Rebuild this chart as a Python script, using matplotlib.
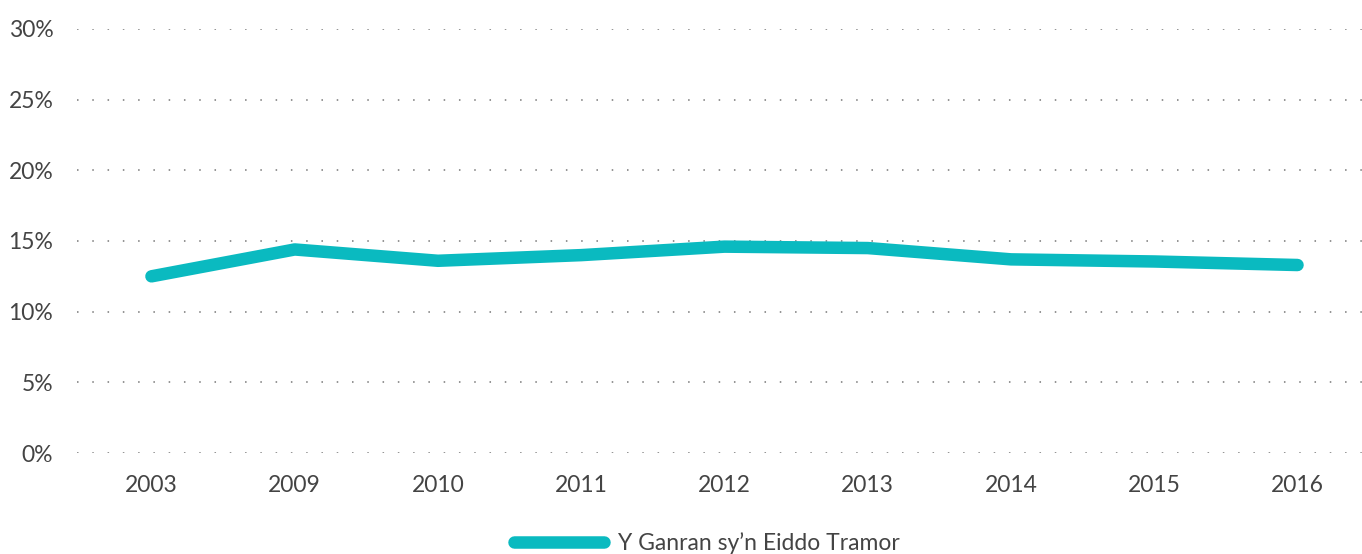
import matplotlib
matplotlib.use("Agg")
import matplotlib.pyplot as plt
from matplotlib.ticker import FuncFormatter

years = ["2003", "2009", "2010", "2011", "2012", "2013", "2014", "2015", "2016"]
values = [12.5, 14.4, 13.6, 14.0, 14.6, 14.5, 13.7, 13.55, 13.3]
yticks = [0, 5, 10, 15, 20, 25, 30]
series_name = "Y Ganran sy\u2019n Eiddo Tramor"

plt.rcParams['font.family'] = ['Lato', 'DejaVu Sans']

fig = plt.figure(figsize=(13.62, 5.54), dpi=100)
ax = fig.add_axes([0.0565, 0.1823, 0.9435, 0.7654])

x = list(range(len(years)))
ax.plot(x, values, color="#0ABAC0", linewidth=9, solid_capstyle="round",
        solid_joinstyle="round", label=series_name, zorder=3)

ax.set_ylim(0, 30)
ax.set_xlim(-0.52, 8.45)
ax.set_yticks(yticks)
ax.yaxis.set_major_formatter(FuncFormatter(lambda v, p: f"{int(v)}%"))
ax.set_xticks(x)
ax.set_xticklabels(years)
ax.grid(axis="y", color="#777777", linestyle=(0, (1, 9)), linewidth=1.1)
ax.grid(axis="x", visible=False)
for s in ax.spines.values():
    s.set_visible(False)
ax.tick_params(axis="both", length=0, labelsize=16.5, labelcolor="#444444")
ax.tick_params(axis="y", pad=17)
ax.tick_params(axis="x", pad=16)

leg = fig.legend(loc="center", bbox_to_anchor=(0.519, 0.02), frameon=False,
                 fontsize=16.5, handlelength=3.9, handletextpad=0.6)
for t in leg.get_texts():
    t.set_color("#444444")

fig.savefig("out.png", dpi=100, facecolor="white")
